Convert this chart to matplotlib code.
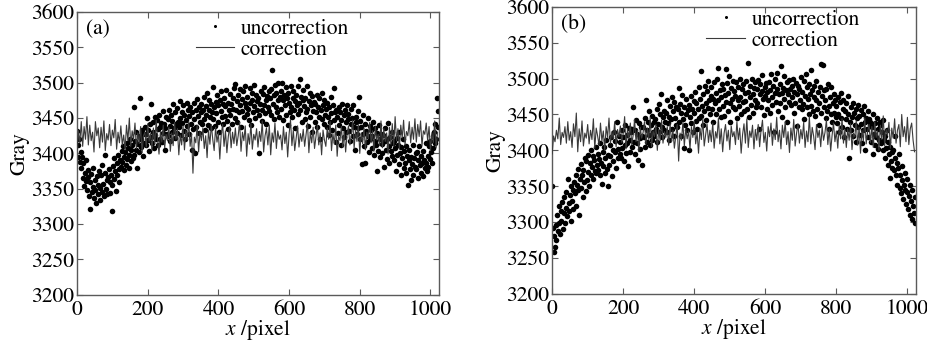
import numpy as np
import matplotlib

matplotlib.rcParams["font.family"] = "serif"
matplotlib.rcParams["font.serif"] = ["STIXGeneral", "DejaVu Serif"]
matplotlib.rcParams["mathtext.fontset"] = "stix"
matplotlib.rcParams["font.size"] = 15.5

import matplotlib.pyplot as plt

SPINE_COLOR = "#5a5a5a"
LINE_COLOR = "#3a3a3a"
DOT_COLOR = "#000000"

# pixel index along the row: dots every 2 px, corrected line every 4 px
x_dots = np.arange(0, 1024, 2)
x_line = np.arange(0, 1024, 4)

# (a) uncorrected gray values
uncorr_a = [
    3432, 3395, 3412, 3421, 3388, 3402, 3379, 3395, 3365, 3386, 3354, 3372, 3361, 3390, 3348, 3377,
    3366, 3340, 3322, 3359, 3371, 3345, 3352, 3380, 3337, 3362, 3348, 3330, 3368, 3355, 3343, 3375,
    3351, 3334, 3369, 3345, 3384, 3357, 3340, 3372, 3398, 3350, 3362, 3342, 3366, 3378, 3344, 3359,
    3370, 3318, 3356, 3382, 3364, 3393, 3375, 3347, 3386, 3369, 3398, 3378, 3360, 3391, 3381, 3403,
    3388, 3410, 3376, 3395, 3402, 3384, 3415, 3392, 3407, 3379, 3398, 3420, 3389, 3405, 3412, 3394,
    3466, 3398, 3418, 3405, 3431, 3379, 3414, 3425, 3402, 3478, 3420, 3409, 3433, 3396, 3427, 3415,
    3437, 3412, 3428, 3450, 3419, 3433, 3404, 3441, 3470, 3423, 3415, 3445, 3431, 3408, 3452, 3426,
    3421, 3447, 3434, 3412, 3455, 3438, 3420, 3443, 3416, 3460, 3429, 3441, 3405, 3436, 3451, 3427,
    3448, 3425, 3462, 3439, 3418, 3455, 3431, 3446, 3470, 3436, 3422, 3458, 3441, 3429, 3464, 3444,
    3437, 3474, 3450, 3426, 3459, 3443, 3468, 3432, 3455, 3420, 3447, 3471, 3439, 3462, 3428, 3453,
    3466, 3441, 3405, 3458, 3435, 3472, 3449, 3400, 3462, 3438, 3477, 3453, 3429, 3466, 3445, 3458,
    3470, 3442, 3461, 3480, 3449, 3433, 3467, 3455, 3486, 3440, 3462, 3475, 3451, 3436, 3470, 3458,
    3448, 3494, 3465, 3439, 3473, 3457, 3482, 3445, 3468, 3430, 3476, 3460, 3488, 3451, 3442, 3470,
    3479, 3453, 3467, 3490, 3446, 3472, 3435, 3461, 3484, 3455, 3470, 3441, 3478, 3463, 3493, 3450,
    3498, 3462, 3474, 3445, 3483, 3458, 3491, 3469, 3437, 3477, 3460, 3488, 3452, 3472, 3495, 3465,
    3456, 3480, 3463, 3447, 3492, 3471, 3440, 3476, 3485, 3459, 3497, 3467, 3450, 3482, 3461, 3474,
    3479, 3455, 3400, 3470, 3489, 3462, 3446, 3484, 3468, 3494, 3457, 3475, 3442, 3481, 3465, 3488,
    3460, 3478, 3491, 3455, 3518, 3470, 3482, 3448, 3497, 3466, 3485, 3458, 3476, 3499, 3452, 3480,
    3488, 3463, 3500, 3475, 3447, 3482, 3468, 3494, 3455, 3479, 3440, 3486, 3471, 3459, 3496, 3466,
    3452, 3478, 3489, 3461, 3474, 3436, 3483, 3468, 3495, 3456, 3471, 3505, 3462, 3480, 3444, 3476,
    3490, 3467, 3448, 3479, 3458, 3496, 3463, 3439, 3474, 3485, 3452, 3469, 3431, 3481, 3460, 3473,
    3444, 3470, 3459, 3482, 3437, 3466, 3451, 3478, 3420, 3462, 3486, 3448, 3468, 3441, 3475, 3455,
    3463, 3438, 3471, 3452, 3426, 3466, 3445, 3480, 3457, 3433, 3469, 3493, 3447, 3458, 3416, 3462,
    3451, 3429, 3466, 3440, 3458, 3412, 3447, 3470, 3436, 3455, 3423, 3462, 3445, 3431, 3468, 3449,
    3456, 3432, 3418, 3463, 3441, 3450, 3425, 3469, 3437, 3405, 3452, 3444, 3428, 3460, 3436, 3480,
    3446, 3421, 3437, 3385, 3455, 3428, 3410, 3442, 3387, 3432, 3416, 3450, 3425, 3402, 3439, 3420,
    3433, 3407, 3425, 3445, 3398, 3418, 3436, 3412, 3375, 3429, 3403, 3440, 3421, 3395, 3427, 3414,
    3400, 3426, 3381, 3417, 3436, 3405, 3420, 3392, 3443, 3410, 3387, 3423, 3404, 3430, 3396, 3415,
    3418, 3390, 3407, 3375, 3422, 3398, 3412, 3385, 3430, 3401, 3369, 3409, 3393, 3420, 3380, 3404,
    3386, 3410, 3372, 3397, 3355, 3390, 3405, 3378, 3395, 3362, 3385, 3412, 3370, 3393, 3381, 3400,
    3378, 3402, 3365, 3391, 3410, 3383, 3372, 3397, 3386, 3368, 3404, 3391, 3379, 3415, 3387, 3375,
    3396, 3381, 3410, 3392, 3418, 3402, 3386, 3425, 3408, 3430, 3415, 3442, 3420, 3478, 3460, 3438,
]

# (a) corrected gray values
corr_a = [
    3405, 3432, 3415, 3445, 3410, 3438, 3420, 3452, 3412, 3440, 3418, 3430, 3402, 3445, 3425, 3436,
    3408, 3437, 3416, 3446, 3404, 3428, 3419, 3441, 3411, 3433, 3422, 3448, 3406, 3430, 3415, 3439,
    3412, 3426, 3405, 3440, 3418, 3450, 3410, 3432, 3420, 3443, 3407, 3429, 3414, 3438, 3401, 3425,
    3430, 3409, 3442, 3417, 3428, 3404, 3436, 3413, 3447, 3420, 3399, 3431, 3416, 3440, 3408, 3427,
    3418, 3437, 3403, 3429, 3411, 3444, 3420, 3435, 3398, 3426, 3412, 3439, 3405, 3432, 3419, 3445,
    3410, 3428, 3372, 3423, 3415, 3440, 3402, 3431, 3418, 3436, 3407, 3425, 3394, 3433, 3413, 3441,
    3420, 3404, 3437, 3416, 3429, 3392, 3427, 3441, 3410, 3432, 3401, 3424, 3438, 3408, 3430, 3414,
    3436, 3411, 3425, 3444, 3403, 3430, 3418, 3439, 3396, 3428, 3413, 3442, 3406, 3427, 3419, 3435,
    3409, 3431, 3417, 3446, 3402, 3425, 3436, 3412, 3440, 3398, 3429, 3416, 3443, 3407, 3432, 3420,
    3426, 3405, 3438, 3414, 3430, 3395, 3427, 3448, 3411, 3433, 3404, 3422, 3439, 3409, 3428, 3417,
    3434, 3410, 3426, 3443, 3401, 3430, 3415, 3437, 3407, 3424, 3440, 3412, 3429, 3398, 3433, 3419,
    3410, 3436, 3420, 3445, 3404, 3428, 3413, 3440, 3396, 3425, 3418, 3438, 3409, 3431, 3402, 3427,
    3439, 3412, 3426, 3447, 3407, 3433, 3417, 3441, 3400, 3429, 3414, 3436, 3405, 3430, 3421, 3444,
    3415, 3432, 3403, 3438, 3419, 3427, 3411, 3446, 3408, 3435, 3417, 3429, 3399, 3437, 3413, 3442,
    3410, 3452, 3418, 3435, 3406, 3440, 3422, 3447, 3412, 3431, 3425, 3445, 3415, 3437, 3420, 3449,
    3416, 3441, 3424, 3446, 3411, 3432, 3427, 3443, 3418, 3438, 3404, 3429, 3415, 3446, 3408, 3430,
]

# (b) uncorrected gray values
uncorr_b = [
    3350, 3292, 3258, 3280, 3265, 3296, 3275, 3310, 3288, 3322, 3298, 3284, 3315, 3302, 3328, 3290,
    3312, 3335, 3298, 3320, 3342, 3308, 3360, 3326, 3315, 3338, 3302, 3350, 3329, 3344, 3318, 3356,
    3340, 3365, 3322, 3352, 3374, 3345, 3310, 3360, 3381, 3348, 3366, 3335, 3372, 3356, 3390, 3343,
    3385, 3358, 3394, 3370, 3350, 3382, 3400, 3365, 3377, 3392, 3360, 3386, 3371, 3404, 3368, 3380,
    3395, 3372, 3388, 3410, 3365, 3383, 3353, 3398, 3378, 3405, 3369, 3390, 3415, 3374, 3350, 3393,
    3380, 3408, 3392, 3418, 3364, 3401, 3385, 3425, 3397, 3413, 3376, 3440, 3402, 3389, 3420, 3395,
    3412, 3390, 3428, 3403, 3418, 3385, 3435, 3407, 3396, 3422, 3410, 3378, 3431, 3415, 3398, 3426,
    3405, 3430, 3460, 3412, 3395, 3428, 3442, 3410, 3423, 3386, 3438, 3417, 3402, 3433, 3420, 3380,
    3432, 3418, 3445, 3405, 3470, 3428, 3412, 3440, 3422, 3455, 3408, 3436, 3415, 3448, 3426, 3440,
    3420, 3444, 3430, 3458, 3412, 3437, 3465, 3425, 3450, 3478, 3433, 3418, 3446, 3429, 3455, 3440,
    3452, 3426, 3470, 3438, 3447, 3415, 3462, 3443, 3475, 3430, 3455, 3420, 3468, 3445, 3436, 3460,
    3432, 3458, 3487, 3440, 3465, 3420, 3452, 3477, 3444, 3403, 3460, 3436, 3471, 3450, 3428, 3456,
    3463, 3400, 3447, 3476, 3438, 3458, 3425, 3469, 3452, 3482, 3441, 3466, 3430, 3457, 3488, 3445,
    3472, 3448, 3510, 3462, 3435, 3478, 3455, 3490, 3466, 3442, 3483, 3459, 3497, 3470, 3450, 3476,
    3488, 3457, 3472, 3440, 3495, 3466, 3480, 3451, 3500, 3470, 3515, 3458, 3484, 3446, 3475, 3492,
    3462, 3485, 3448, 3477, 3514, 3468, 3494, 3455, 3480, 3503, 3466, 3440, 3487, 3472, 3460, 3497,
    3483, 3458, 3476, 3495, 3445, 3470, 3488, 3462, 3499, 3474, 3450, 3485, 3467, 3492, 3455, 3480,
    3469, 3496, 3458, 3522, 3482, 3447, 3475, 3490, 3463, 3500, 3478, 3452, 3487, 3470, 3495, 3460,
    3485, 3466, 3498, 3430, 3478, 3492, 3460, 3483, 3505, 3472, 3449, 3488, 3476, 3494, 3458, 3481,
    3470, 3495, 3452, 3484, 3507, 3475, 3463, 3490, 3425, 3480, 3500, 3468, 3508, 3486, 3455, 3478,
    3492, 3466, 3518, 3480, 3447, 3487, 3472, 3503, 3460, 3484, 3495, 3440, 3478, 3498, 3468, 3485,
    3463, 3489, 3475, 3500, 3452, 3481, 3466, 3494, 3434, 3478, 3490, 3460, 3485, 3470, 3502, 3457,
    3482, 3465, 3496, 3443, 3476, 3506, 3460, 3488, 3471, 3450, 3493, 3478, 3512, 3462, 3484, 3455,
    3475, 3490, 3448, 3470, 3497, 3458, 3482, 3436, 3466, 3488, 3520, 3452, 3476, 3519, 3460, 3484,
    3470, 3445, 3486, 3455, 3493, 3462, 3430, 3475, 3450, 3488, 3440, 3466, 3478, 3452, 3470, 3446,
    3462, 3438, 3475, 3450, 3425, 3468, 3445, 3480, 3432, 3457, 3470, 3418, 3455, 3443, 3466, 3430,
    3476, 3451, 3390, 3440, 3460, 3428, 3447, 3466, 3420, 3452, 3435, 3458, 3412, 3445, 3463, 3432,
    3448, 3422, 3456, 3437, 3410, 3451, 3428, 3462, 3440, 3400, 3445, 3430, 3455, 3418, 3443, 3435,
    3440, 3412, 3433, 3395, 3450, 3423, 3408, 3438, 3418, 3445, 3402, 3430, 3415, 3436, 3440, 3410,
    3425, 3400, 3442, 3415, 3390, 3420, 3403, 3428, 3380, 3412, 3395, 3362, 3405, 3385, 3398, 3375,
    3400, 3372, 3390, 3420, 3365, 3383, 3352, 3375, 3395, 3348, 3366, 3340, 3358, 3378, 3332, 3352,
    3345, 3368, 3325, 3342, 3360, 3318, 3337, 3352, 3310, 3330, 3345, 3304, 3322, 3312, 3335, 3298,
]

# (b) corrected gray values
corr_b = [
    3395, 3420, 3412, 3428, 3416, 3445, 3408, 3425, 3418, 3433, 3410, 3440, 3414, 3426, 3404, 3437,
    3419, 3452, 3398, 3430, 3412, 3441, 3406, 3424, 3417, 3436, 3409, 3428, 3415, 3444, 3403, 3431,
    3420, 3407, 3438, 3413, 3427, 3400, 3433, 3418, 3445, 3410, 3426, 3416, 3440, 3405, 3429, 3419,
    3434, 3411, 3424, 3447, 3402, 3430, 3416, 3438, 3408, 3421, 3443, 3412, 3428, 3398, 3432, 3417,
    3425, 3440, 3409, 3431, 3415, 3446, 3405, 3427, 3419, 3436, 3400, 3429, 3413, 3442, 3410, 3426,
    3418, 3433, 3407, 3437, 3412, 3428, 3403, 3420, 3436, 3385, 3424, 3414, 3439, 3406, 3430, 3416,
    3427, 3402, 3433, 3418, 3441, 3409, 3425, 3396, 3431, 3415, 3444, 3406, 3422, 3437, 3411, 3428,
    3412, 3438, 3403, 3426, 3417, 3445, 3409, 3430, 3398, 3424, 3436, 3413, 3428, 3401, 3434, 3419,
    3426, 3408, 3440, 3415, 3431, 3396, 3422, 3437, 3410, 3444, 3404, 3427, 3418, 3435, 3402, 3429,
    3414, 3436, 3405, 3428, 3442, 3411, 3425, 3399, 3433, 3419, 3438, 3407, 3430, 3415, 3446, 3412,
    3428, 3402, 3435, 3418, 3440, 3408, 3426, 3397, 3431, 3414, 3443, 3406, 3424, 3437, 3410, 3429,
    3416, 3439, 3404, 3427, 3412, 3447, 3409, 3432, 3420, 3401, 3436, 3418, 3428, 3405, 3433, 3414,
    3425, 3442, 3408, 3430, 3399, 3421, 3438, 3412, 3427, 3403, 3435, 3416, 3444, 3410, 3429, 3404,
    3430, 3414, 3437, 3401, 3424, 3419, 3441, 3407, 3432, 3396, 3428, 3413, 3445, 3409, 3426, 3436,
    3411, 3433, 3404, 3440, 3418, 3427, 3400, 3435, 3415, 3448, 3406, 3429, 3421, 3439, 3403, 3431,
    3417, 3444, 3410, 3428, 3436, 3405, 3450, 3419, 3433, 3412, 3446, 3408, 3430, 3438, 3414, 3398,
]

panel_labels = ["(a)", "(b)"]
y_ticks = [3200, 3250, 3300, 3350, 3400, 3450, 3500, 3550, 3600]
x_ticks = [0, 200, 400, 600, 800, 1000]


def style_axes(ax):
    ax.set_xlim(0, 1024)
    ax.set_ylim(3200, 3600)
    ax.set_xticks(x_ticks)
    ax.set_yticks(y_ticks)
    ax.tick_params(direction="in", top=True, right=True, length=4, width=0.8,
                   color=SPINE_COLOR)
    ax.tick_params(axis="y", pad=2)
    ax.tick_params(axis="x", pad=4)
    for sp in ax.spines.values():
        sp.set_color(SPINE_COLOR)
        sp.set_linewidth(1.0)
    ax.set_xlabel("$x$ /pixel", labelpad=-1.5)
    ax.set_ylabel("Gray", labelpad=1)


fig = plt.figure(figsize=(9.28, 3.44), dpi=100)
ax_a = fig.add_axes([0.083, 0.143, 0.390, 0.822])
ax_b = fig.add_axes([0.595, 0.146, 0.392, 0.834])

panels = [
    (ax_a, uncorr_a, corr_a, (0.54, 0.985)),
    (ax_b, uncorr_b, corr_b, (0.635, 0.998)),
]

for (ax, unc, cor, anchor), lab in zip(panels, panel_labels):
    ax.plot(x_dots, unc, "o", color=DOT_COLOR, markersize=4.0, markeredgewidth=0,
            label="uncorrection", zorder=2)
    ax.plot(x_line, cor, "-", color=LINE_COLOR, linewidth=0.8, label="correction", zorder=3)
    style_axes(ax)
    ax.text(0.025, 0.975, lab, transform=ax.transAxes, ha="left", va="top")
    ax.legend(loc="upper center", bbox_to_anchor=anchor, frameon=False, handlelength=1.8,
              handletextpad=0.3, labelspacing=0.05, borderaxespad=0.0, borderpad=0.1,
              markerscale=0.55)

fig.savefig("out.png", dpi=100)
